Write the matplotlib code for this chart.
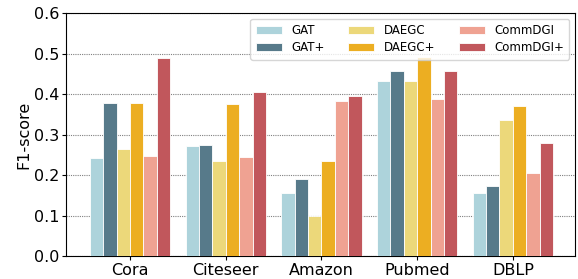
import numpy as np
import matplotlib
matplotlib.use("Agg")
import matplotlib.pyplot as plt

datasets = ["Cora", "Citeseer", "Amazon", "Pubmed", "DBLP"]
methods = ["GAT", "GAT+", "DAEGC", "DAEGC+", "CommDGI", "CommDGI+"]
gat = [0.243, 0.272, 0.155, 0.433, 0.155]
gat_plus = [0.378, 0.275, 0.190, 0.458, 0.174]
daegc = [0.265, 0.235, 0.100, 0.432, 0.337]
daegc_plus = [0.378, 0.376, 0.234, 0.491, 0.371]
commdgi = [0.247, 0.245, 0.383, 0.388, 0.204]
commdgi_plus = [0.488, 0.406, 0.395, 0.458, 0.280]

series = [gat, gat_plus, daegc, daegc_plus, commdgi, commdgi_plus]
colors = ["#add3db", "#577a8a", "#ecd87a", "#ecae22", "#efa292", "#c1575c"]

fig = plt.figure(figsize=(5.78, 2.79), dpi=100)
ax = fig.add_axes([0.114, 0.082, 0.881, 0.871])

x = np.arange(len(datasets))
w = 0.14
for i, (vals, c, name) in enumerate(zip(series, colors, methods)):
    ax.bar(x + (i - 2.5) * w, vals, w, color=c, edgecolor="white",
           linewidth=0.6, label=name, zorder=3)

ax.set_xlim(-0.67, 4.65)
ax.set_ylim(0, 0.6)
ax.set_yticks(np.arange(0, 0.61, 0.1))
ax.set_xticks(x)
ax.set_xticklabels(datasets, fontsize=11.5)
ax.tick_params(axis="x", length=3, pad=2)
ax.tick_params(axis="y", labelsize=11.5, length=3, pad=1.5)
ax.set_ylabel("F1-score", fontsize=11.5, labelpad=2)
ax.yaxis.grid(True, linestyle=(0, (1, 1)), color="gray", linewidth=0.8, zorder=0)

ax.legend(ncol=3, loc="upper right", fontsize=8.5, frameon=True,
          columnspacing=2.0, handlelength=2.2,
          labelspacing=0.35, borderpad=0.45)

fig.savefig("out.png", dpi=100)
